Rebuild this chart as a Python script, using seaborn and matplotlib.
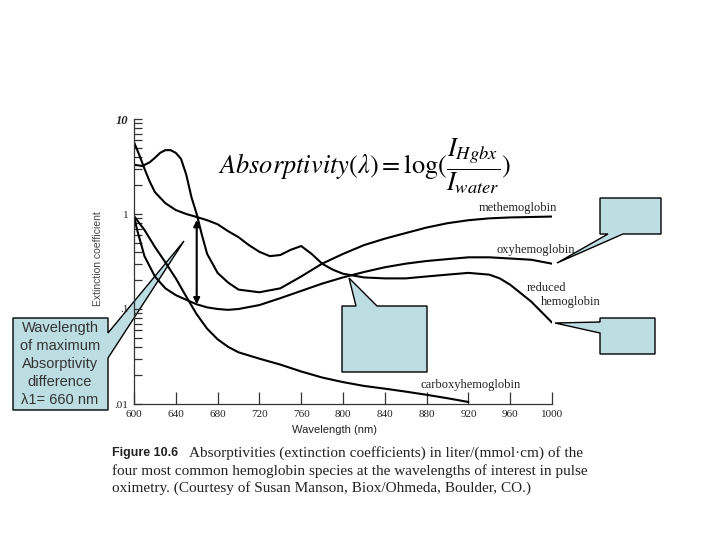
import matplotlib
matplotlib.use('Agg')
import matplotlib.pyplot as plt
import seaborn as sns
from matplotlib.patches import Polygon
from matplotlib.ticker import FixedLocator, LogLocator, NullFormatter

# absorptivity curves (liter/(mmol*cm))
met_nm = [600, 608, 615, 620, 625, 630, 635, 640, 645, 650, 655, 660, 665, 670, 680, 690, 700, 720, 740,
          760, 780, 800, 820, 840, 860, 880, 900, 920, 940, 960, 980, 1000]
met_abs = [3.3, 3.2, 3.5, 3.9, 4.4, 4.7, 4.7, 4.4, 3.8, 2.6, 1.5, 1.0, 0.6, 0.38, 0.24, 0.19, 0.16, 0.15, 0.165,
           0.22, 0.30, 0.38, 0.47, 0.55, 0.63, 0.72, 0.80, 0.86, 0.90, 0.92, 0.93, 0.94]

red_nm = [600, 605, 610, 615, 620, 630, 640, 650, 660, 670, 680, 690, 700, 710, 720, 730, 740,
          750, 760, 770, 780, 790, 800, 820, 840, 860, 880, 900, 920, 940, 950, 960, 980, 1000]
red_abs = [5.7, 4.2, 3.0, 2.2, 1.7, 1.3, 1.1, 1.0, 0.93, 0.86, 0.78, 0.66, 0.57, 0.47, 0.40, 0.36, 0.37,
           0.42, 0.46, 0.38, 0.30, 0.26, 0.235, 0.215, 0.21, 0.21, 0.22, 0.23, 0.24, 0.23, 0.21, 0.18, 0.12, 0.072]

oxy_nm = [600, 603, 610, 620, 630, 640, 650, 660, 670, 680, 690, 700, 720, 740, 760, 780, 800,
          820, 840, 860, 880, 900, 920, 940, 960, 980, 1000]
oxy_abs = [0.95, 0.68, 0.36, 0.22, 0.165, 0.14, 0.125, 0.112, 0.104, 0.10, 0.098, 0.10, 0.11, 0.13,
           0.155, 0.185, 0.215, 0.245, 0.275, 0.30, 0.32, 0.335, 0.35, 0.35, 0.34, 0.33, 0.30]

carb_nm = [600, 610, 620, 630, 640, 650, 660, 670, 680, 690, 700, 720, 740, 760, 780, 800,
           820, 840, 860, 880, 900, 920]
carb_abs = [0.95, 0.68, 0.45, 0.31, 0.21, 0.135, 0.088, 0.062, 0.048, 0.040, 0.035, 0.030, 0.026,
            0.022, 0.019, 0.017, 0.0155, 0.0145, 0.0135, 0.0125, 0.0115, 0.0105]

x_ticks = [600, 640, 680, 720, 760, 800, 840, 880, 920, 960, 1000]
y_ticks = [0.01, 0.1, 1, 10]
y_ticklabels = ['.01', '.1', '1', '10']

sns.set_style('white')
plt.rcParams['mathtext.fontset'] = 'stix'
serif = 'Liberation Serif'
sans = 'Liberation Sans'
ink = '#222222'
box_fill = '#bcdde2'

W, H = 720, 540


def fx(px):
    return px / W


def fy(py):
    return 1 - py / H


fig = plt.figure(figsize=(7.2, 5.4), dpi=100)
ax = fig.add_axes([fx(134), fy(404), 418 / W, 285 / H])
ax.patch.set_visible(False)

for nm, ab in [(met_nm, met_abs), (red_nm, red_abs), (oxy_nm, oxy_abs), (carb_nm, carb_abs)]:
    sns.lineplot(x=nm, y=ab, ax=ax, color='black', lw=1.5, sort=False)

ax.set_yscale('log')
ax.set_xlim(600, 1000)
ax.set_ylim(0.01, 10)
sns.despine(ax=ax)
for s in ['left', 'bottom']:
    ax.spines[s].set_color('#333333')
    ax.spines[s].set_linewidth(0.9)

ax.xaxis.set_major_locator(FixedLocator(x_ticks))
ax.set_xticklabels([str(t) for t in x_ticks], fontfamily=serif, fontsize=8, color=ink)
ax.tick_params(axis='x', bottom=True, direction='in', length=9, width=0.9, pad=4, color='#333333')
ax.yaxis.set_major_locator(FixedLocator(y_ticks))
ax.yaxis.set_minor_locator(LogLocator(base=10, subs=range(2, 10)))
ax.yaxis.set_minor_formatter(NullFormatter())
ax.set_yticklabels(y_ticklabels, fontfamily=serif, fontsize=8, color=ink)
ax.get_yticklabels()[-1].set_fontweight('bold')
ax.get_yticklabels()[-1].set_fontstyle('italic')
ax.get_yticklabels()[-1].set_fontsize(9)
ax.tick_params(axis='y', which='both', left=True, direction='in', length=6, width=0.9, pad=4,
               color='#333333')

ax.set_ylabel('Extinction coefficient', fontfamily=sans, fontsize=7.5, color='#444444')
ax.yaxis.set_label_coords(-0.074, 0.51)
ax.set_xlabel('Wavelength (nm)', fontfamily=sans, fontsize=8, color=ink)
ax.xaxis.set_label_coords(0.48, -0.075)

# double arrow between the two curves at 660 nm
ax.annotate('', xy=(660, oxy_abs[oxy_nm.index(660)]), xytext=(660, red_abs[red_nm.index(660)] * 0.93),
            arrowprops=dict(arrowstyle='<|-|>', color='black', lw=1.5, shrinkA=0, shrinkB=0,
                            mutation_scale=9))

lab = dict(fontfamily=serif, fontsize=9, color=ink, clip_on=False)
ax.text(967, 1.15, 'methemoglobin', ha='center', va='center', **lab)
ax.text(984, 0.42, 'oxyhemoglobin', ha='center', va='center', **lab)
ax.text(976, 0.165, 'reduced', ha='left', va='center', **lab)
ax.text(989, 0.118, 'hemoglobin', ha='left', va='center', **lab)
ax.text(922, 0.0157, 'carboxyhemoglobin', ha='center', va='center', **lab)

# formula
fig.text(fx(365), fy(166), r'$Absorptivity(\lambda) = \log(\dfrac{I_{Hgbx}}{I_{water}})$',
         ha='center', va='center', fontsize=19, color='black')

# callout boxes (pixel outlines of the slide annotations)
callouts = [
    [(13, 318), (108, 318), (108, 333), (184, 241), (108, 358), (108, 410), (13, 410)],
    [(342, 306), (356, 306), (349, 278), (377, 306), (427, 306), (427, 372), (342, 372)],
    [(600, 198), (661, 198), (661, 234), (623, 234), (557, 263), (608, 234), (600, 234)],
    [(600, 318), (655, 318), (655, 354), (600, 354), (600, 333), (555, 323), (600, 322)],
]
for pts in callouts:
    fig.add_artist(Polygon([(fx(a), fy(b)) for a, b in pts], closed=True, transform=fig.transFigure,
                           facecolor=box_fill, edgecolor='black', lw=1, zorder=-1))

fig.text(fx(60), fy(364), 'Wavelength\nof maximum\nAbsorptivity\ndifference\n\u03bb1= 660 nm',
         ha='center', va='center', multialignment='center', fontfamily=sans, fontsize=10.5,
         color='#333333', linespacing=1.38)

# caption
fig.text(fx(112), fy(453), 'Figure 10.6', fontfamily=sans, fontweight='bold', fontsize=9,
         color=ink, va='center')
cap = dict(fontfamily=serif, fontsize=11, color=ink, va='center')
fig.text(fx(189), fy(453), 'Absorptivities (extinction coefficients) in liter/(mmol\u00b7cm) of the', **cap)
fig.text(fx(112), fy(471), 'four most common hemoglobin species at the wavelengths of interest in pulse', **cap)
fig.text(fx(112), fy(488), 'oximetry. (Courtesy of Susan Manson, Biox/Ohmeda, Boulder, CO.)', **cap)

fig.savefig('out.png', dpi=100)
